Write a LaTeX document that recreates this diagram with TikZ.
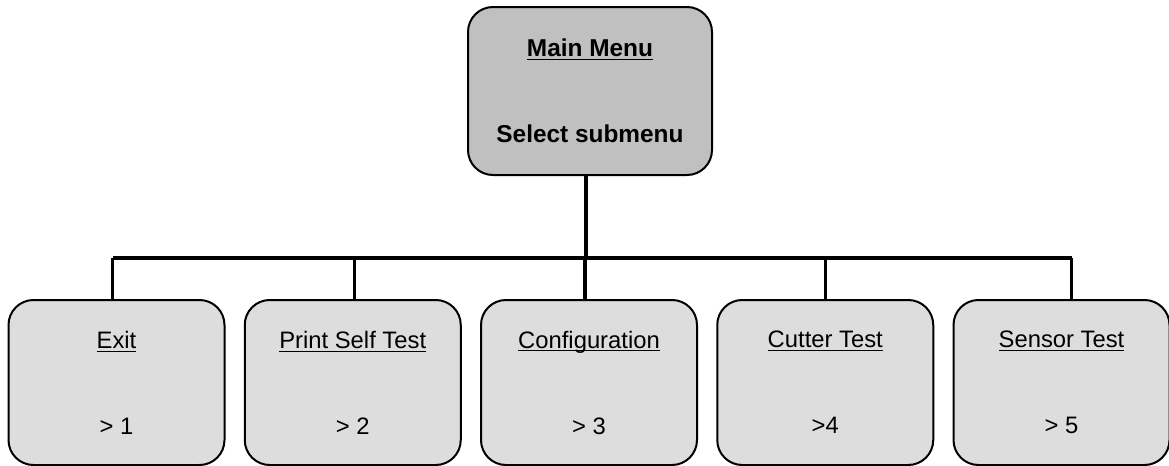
\documentclass[tikz,border=0pt]{standalone}
\usepackage{fontspec}
\setmainfont{Liberation Sans}
\definecolor{mainfill}{HTML}{C0C0C0}
\definecolor{subfill}{HTML}{DDDDDD}
\newcommand{\ul}[1]{\underline{\raisebox{0pt}[\height][0pt]{#1}}}
\begin{document}
\begin{tikzpicture}[x=0.5pt,y=-0.5pt,
  box/.style={rectangle,rounded corners=12.5pt,draw,line width=1pt,align=center,
    minimum width=108pt,minimum height=82.5pt,fill=subfill,font=\fontsize{11.9}{14}\selectfont},
  link/.style={line width=1.6pt}]
%  \draw[help lines] (0,0) grid[step=50] (1169,466);
    \useasboundingbox (0,0) rectangle (1169,466);
    \path (590,91) node(main) [box,fill=mainfill,minimum width=122pt,minimum height=84pt,
      font=\bfseries\fontsize{12.2}{14}\selectfont] {\ul{Main Menu}\\[29pt]Select submenu};
    \foreach \i/\t/\n in {1/Exit/> 1,2/Print Self Test/> 2,3/Configuration/> 3,4/Cutter Test/>4,5/Sensor Test/> 5}
      \path ({116.5+236.25*(\i-1)},382.5) node(b\i) [box] {\ul{\t}\\[29pt]\n};
    \coordinate (bus) at (0,258);
    \draw[link] ([xshift=-2pt]main.south) -- ([xshift=-2pt]main.south |- bus);
    \draw[link] ([xshift=-2pt]b1.north |- bus) -- ([xshift=5pt]b5.north |- bus);
    \foreach \i/\s in {1/-2pt,2/1pt,3/-2pt,4/0pt,5/5pt}
      \draw[link] ([xshift=\s]b\i.north) -- ([xshift=\s]b\i.north |- bus);
  \end{tikzpicture}
\end{document}
